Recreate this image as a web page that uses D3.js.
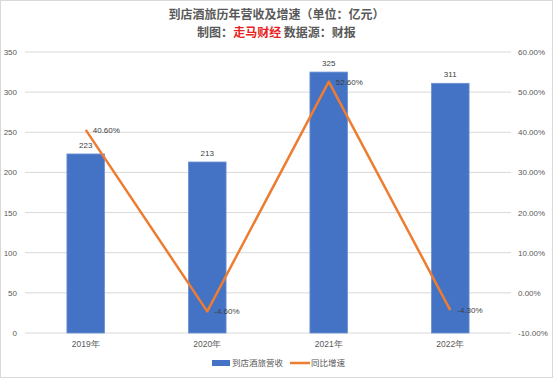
<!DOCTYPE html>
<html><head><meta charset="utf-8">
<script src="https://cdn.jsdelivr.net/npm/d3@7"></script>
<style>body{margin:0;background:#fff;}svg{display:block;font-family:"Noto Sans CJK SC","Noto Sans",sans-serif;}</style>
</head><body><svg id="c" width="553" height="378"></svg>
<script>
const categories = ["2019年","2020年","2021年","2022年"];
const revenue = [223, 213, 325, 311];
const growth = [40.6, -4.6, 52.6, -4.3];
const leftTicks = [0,50,100,150,200,250,300,350];
const rightTicks = [-10,0,10,20,30,40,50,60];

const svg = d3.select("#c");
const W = 553, H = 378;
const m = {l:25, r:42, t:52, b:45};
const x0 = m.l, x1 = W - m.r, y0 = H - m.b, y1 = m.t;

svg.append("rect").attr("x",0.5).attr("y",0.5).attr("width",W-1).attr("height",H-1)
  .attr("fill","#fff").attr("stroke","#d9d9d9");

const x = d3.scaleBand().domain(categories).range([x0,x1]).paddingInner(0.69).paddingOuter(0.345);
const y = d3.scaleLinear().domain([0,350]).range([y0,y1]);
const y2 = d3.scaleLinear().domain([-10,60]).range([y0,y1]);

// gridlines
svg.append("g").selectAll("line").data(leftTicks).join("line")
  .attr("x1",x0).attr("x2",x1).attr("y1",d=>y(d)).attr("y2",d=>y(d))
  .attr("stroke","#d9d9d9").attr("stroke-width",1);

// left axis
const la = svg.append("g").attr("transform",`translate(${x0},0)`)
  .call(d3.axisLeft(y).tickValues(leftTicks).tickSize(0).tickPadding(8));
la.select(".domain").remove();
la.selectAll("text").attr("fill","#595959").style("font-size","8px").style("font-family","Liberation Sans, Arial, sans-serif");

// right axis
const ra = svg.append("g").attr("transform",`translate(${x1},0)`)
  .call(d3.axisRight(y2).tickValues(rightTicks).tickSize(0).tickPadding(7).tickFormat(d=>d.toFixed(2)+"%"));
ra.select(".domain").remove();
ra.selectAll("text").attr("fill","#595959").style("font-size","8px").style("font-family","Liberation Sans, Arial, sans-serif");

// x axis
const xa = svg.append("g").attr("transform",`translate(0,${y0})`)
  .call(d3.axisBottom(x).tickSize(0).tickPadding(8));
xa.select(".domain").remove();
xa.selectAll("text").attr("fill","#595959").style("font-size","8.5px");

// bars
svg.append("g").selectAll("rect").data(revenue).join("rect")
  .attr("x",(d,i)=>x(categories[i])).attr("width",x.bandwidth())
  .attr("y",d=>y(d)).attr("height",d=>y(0)-y(d))
  .attr("fill","#4472C4").attr("stroke","#6f93d3").attr("stroke-width",0.8);

svg.append("g").selectAll("text").data(revenue).join("text")
  .attr("x",(d,i)=>x(categories[i])+x.bandwidth()/2).attr("y",d=>y(d)-6)
  .attr("text-anchor","middle").attr("fill","#404040").style("font-size","8px")
  .style("font-family","Liberation Sans, Arial, sans-serif").text(d=>d);

// line
const cx = (i)=>x(categories[i])+x.bandwidth()/2;
const line = d3.line().x((d,i)=>cx(i)).y(d=>y2(d));
svg.append("path").datum(growth).attr("d",line).attr("fill","none")
  .attr("stroke","#ED7D31").attr("stroke-width",2.5).attr("stroke-linejoin","round");

svg.append("g").selectAll("text").data(growth).join("text")
  .attr("x",(d,i)=>cx(i)+7).attr("y",d=>y2(d)+3)
  .attr("fill","#404040").style("font-size","8px")
  .style("font-family","Liberation Sans, Arial, sans-serif").text(d=>d.toFixed(2)+"%");

// title
svg.append("text").attr("x",W/2).attr("y",19).attr("text-anchor","middle")
  .attr("fill","#595959").style("font-size","12px").style("font-weight","bold")
  .text("到店酒旅历年营收及增速（单位：亿元）");
const t2 = svg.append("text").attr("x",W/2).attr("y",37).attr("text-anchor","middle")
  .style("font-size","12px").style("font-weight","bold");
t2.append("tspan").attr("fill","#595959").text("制图：");
t2.append("tspan").attr("fill","#E8231F").text("走马财经");
t2.append("tspan").attr("fill","#595959").text(" 数据源：财报");

// legend
const lg = svg.append("g").attr("transform","translate(0,363)");
lg.append("rect").attr("x",212).attr("y",-3).attr("width",18).attr("height",6).attr("fill","#4472C4");
lg.append("text").attr("x",232).attr("y",3).attr("fill","#595959").style("font-size","8.5px").text("到店酒旅营收");
lg.append("line").attr("x1",290).attr("x2",310).attr("y1",0).attr("y2",0).attr("stroke","#ED7D31").attr("stroke-width",2.5);
lg.append("text").attr("x",311).attr("y",3).attr("fill","#595959").style("font-size","8.5px").text("同比增速");
</script></body></html>
